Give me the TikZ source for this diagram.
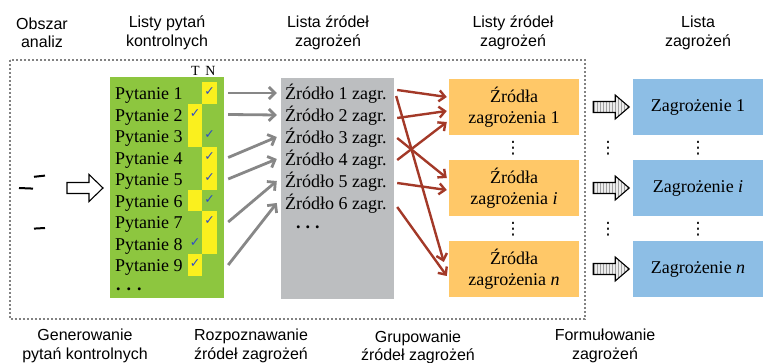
\documentclass[tikz,border=0pt]{standalone}
\usepackage{fontspec}
\setmainfont{Liberation Serif}
\newfontfamily\sansf{Liberation Sans}
\newfontfamily\symf{DejaVu Sans}
\usetikzlibrary{arrows.meta,patterns,calc}
\definecolor{cgreen}{RGB}{141,198,63}
\definecolor{cyellow}{RGB}{250,240,30}
\definecolor{cgraybox}{RGB}{188,190,192}
\definecolor{corange}{RGB}{255,200,104}
\definecolor{cblue}{RGB}{141,190,229}
\definecolor{cred}{RGB}{163,57,40}
\definecolor{cgarrow}{RGB}{135,135,135}
\definecolor{ccheck}{RGB}{45,75,200}
\definecolor{cframe}{RGB}{130,130,130}
\begin{document}
\begin{tikzpicture}[x=1pt,y=-1pt,
  hdr/.style={font=\sansf\fontsize{16}{18.5}\selectfont, align=center, inner sep=0},
  rowtxt/.style={font=\fontsize{18}{20}\selectfont, anchor=base west, inner sep=0},
  boxtxt/.style={font=\fontsize{18}{21}\selectfont, align=center, inner sep=0},
  panel/.style={inner sep=0, draw=none},
  chk/.style={font=\symf\fontsize{12.5}{12.5}\selectfont, text=ccheck, inner sep=0},
  garrow/.style={draw=cgarrow, line width=2.8pt, -{Straight Barb[length=6pt,width=12pt]}},
  rarrow/.style={draw=cred, line width=2.4pt, -{Straight Barb[length=6pt,width=11pt]}},
  blockarrow/.style={draw=black, line width=1.1pt, preaction={fill=gray!15}, pattern=vertical lines, pattern color=gray!75},
  vdot/.style={font=\symf\fontsize{17}{17}\selectfont, inner sep=0}
]
\useasboundingbox (0,0) rectangle (764,363);

% headers
\node[hdr] (h1) at (42,33) {Obszar\\analiz};
\node[hdr] (h2) at (167,33) {Listy pytań\\kontrolnych};
\node[hdr] (h3) at (328,33) {Lista źródeł\\zagrożeń};
\node[hdr] (h4) at (513,33) {Listy źródeł\\zagrożeń};
\node[hdr] (h5) at (698,33) {Lista\\zagrożeń};

% footers
\node[hdr] (f1) at (85,346) {Generowanie\\pytań kontrolnych};
\node[hdr] (f2) at (251,346) {Rozpoznawanie\\źródeł zagrożeń};
\node[hdr] (f3) at (418,347.5) {Grupowanie\\źródeł zagrożeń};
\node[hdr] (f4) at (605,346) {Formułowanie\\zagrożeń};

% dotted frame
\draw[cframe, line width=2.6pt, dash pattern=on 2.4pt off 1.6pt] (10,60) rectangle (585,319);

% left marks
\draw[line width=2pt] (34,176.8) -- (45,175.6);
\draw[line width=2pt] (19,188) -- (33,188.6);
\draw[line width=2pt] (34,228.6) -- (45,228);

% panels
\node[panel, fill=cgreen, minimum width=114pt, minimum height=221pt] (green) at (167,187.5) {};
\node[panel, fill=cgraybox, minimum width=113pt, minimum height=221pt] (gray) at (337.5,188.5) {};
\foreach \n/\yc/\lab in {1/107/1, i/188/\textit{i}, n/269/\textit{n}}{
  \node[panel, fill=corange, minimum width=130pt, minimum height=56pt] (o\n) at (514,\yc) {};
  \node[boxtxt] (ot\n) at (514,\yc) {Źródła\\zagrożenia \lab};
  \node[panel, fill=cblue, minimum width=130pt, minimum height=56pt] (b\n) at (698,\yc) {};
  \node[boxtxt] (bt\n) at (698,\yc) {Zagrożenie \lab};
}

% yellow cells (T col 188-202, N col 202-217)
\fill[cyellow] (202,82.5) rectangle (217,104);
\fill[cyellow] (188,104) rectangle (202,147);
\fill[cyellow] (202,147) rectangle (217,190);
\fill[cyellow] (188,190) rectangle (202,211.5);
\fill[cyellow] (202,211.5) rectangle (217,254.5);
\fill[cyellow] (188,254.5) rectangle (202,276);

% T N
\node[font=\fontsize{14}{14}\selectfont, inner sep=0] (tT) at (195.5,70.5) {T};
\node[font=\fontsize{14}{14}\selectfont, inner sep=0] (tN) at (210.5,70.5) {N};

% questions
\foreach \i in {1,...,9}{
  \node[rowtxt] (p\i) at (115,{100+21.5*(\i-1)}) {Pytanie \i};
}
\node[rowtxt] (pdots) at (116,291) {\textbf{.\hspace{6pt}.\hspace{6pt}.}};

% checks
\foreach \i/\xc in {1/209.5,2/195,3/209.5,4/209.5,5/209.5,6/209.5,7/209.5,8/195,9/195}{
  \node[chk] (c\i) at (\xc,{92+21.5*(\i-1)}) {✓};
}

% sources
\foreach \i in {1,...,6}{
  \node[rowtxt] (z\i) at (285,{100+22*(\i-1)}) {Źródło \i\ zagr.};
}
\node[rowtxt] (zdots) at (296,229) {\textbf{.\hspace{5pt}.\hspace{5pt}.}};

% gray arrows
\foreach \a/\b in {1/1,2/2,4/3,5/4,7/5,9/6}{
  \draw[garrow] ($(green.east |- p\a.base)+(4,-7)$) -- ($(gray.west |- z\b.base)+(-4,-7)$);
}

% red arrows
\draw[rarrow] ($(gray.east |- z1.base)+(3,-10)$) -- ($(o1.west)+(-2,-10)$);
\draw[rarrow] ($(gray.east |- z1.base)+(2,-4)$) -- ($(on.west)+(-5,-7)$);
\draw[rarrow] ($(gray.east |- z2.base)+(3,-4)$) -- ($(o1.west)+(-2,4)$);
\draw[rarrow] ($(gray.east |- z3.base)+(3,-6)$) -- ($(oi.west)+(-2,-10)$);
\draw[rarrow] ($(gray.east |- z4.base)+(3,-6)$) -- ($(o1.west)+(-2,15)$);
\draw[rarrow] ($(gray.east |- z5.base)+(3,-5)$) -- ($(oi.west)+(-2,2)$);
\draw[rarrow] ($(gray.east |- z6.base)+(3,-3)$) -- ($(on.west)+(-2,7)$);

% left block arrow
\coordinate (la) at (67,188);
\draw[line width=1.1pt, fill=white, shift={(la)}]
  (0,-5.5) -- (22,-5.5) -- (22,-13.5) -- (36,0) -- (22,13.5) -- (22,5.5) -- (0,5.5) -- cycle;

% striped block arrows
\foreach \n in {1,i,n}{
  \coordinate (m\n) at ($(o\n.east)+(14,0)$);
  \draw[blockarrow, shift={(m\n)}]
    (0,-5.5) -- (22,-5.5) -- (22,-12) -- (36,0) -- (22,12) -- (22,5.5) -- (0,5.5) -- cycle;
}

% vertical dots
\foreach \xc/\nm in {513/a,608/b,698/c}{
  \node[vdot] (vd1\nm) at (\xc,148) {⋮};
  \node[vdot] (vd2\nm) at (\xc,229) {⋮};
}
\end{tikzpicture}
\end{document}
